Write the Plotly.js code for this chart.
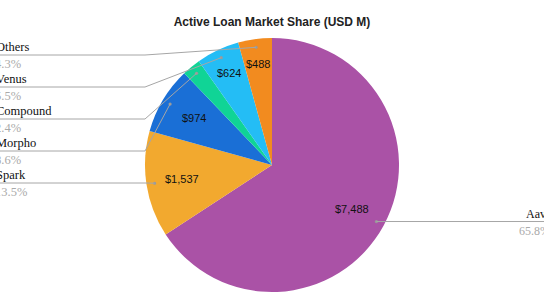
<!DOCTYPE html>
<html>
<head>
<meta charset="utf-8">
<script src="https://cdn.plot.ly/plotly-3.0.1.min.js"></script>
<style>html,body{margin:0;padding:0;background:#fff;overflow:hidden}#chart{width:544px;height:306px}</style>
</head>
<body>
<div id="chart"></div>
<script>
// ---- data ----
const labels = ["Aave", "Spark", "Morpho", "Compound", "Venus", "Others"];
const values = [7488, 1537, 974, 270, 624, 488];
const percentLabels = ["65.8%", "13.5%", "8.6%", "2.4%", "5.5%", "4.3%"];
const colors = ["#AA52A6", "#F2A92F", "#1A6FD6", "#10D496", "#24BDF5", "#F28B1F"];

// ---- geometry (pixels) ----
const W = 544, H = 306;
const CX = 272, CY = 165, R = 127;
const px = x => x / W;
const py = y => 1 - y / H;

const total = values.reduce((a, b) => a + b, 0);
let cum = 0;
const mids = values.map(v => { const m = (cum + v / 2) / total; cum += v; return m * 2 * Math.PI; });
const pt = (ang, rf) => [CX + Math.sin(ang) * R * rf, CY - Math.cos(ang) * R * rf];

const shapes = [];
const annotations = [];
const grey = "#a6a6a6";
const serif = "Liberation Serif, Times New Roman, serif";

// value labels inside slices
values.forEach((v, i) => {
  const frac = v / total;
  const rf = frac > 0.08 ? 0.72 : 0.8;
  const [x, y] = pt(mids[i], rf);
  if (labels[i] === "Compound") return;
  annotations.push({
    x: px(x), y: py(y), xref: "paper", yref: "paper", showarrow: false,
    text: "$" + v.toLocaleString("en-US"),
    font: {family: "Liberation Sans, Arial", size: 11, color: "#111"},
    xanchor: "center", yanchor: "middle", borderpad: 0
  });
});

// leader dots, lines and outside labels
const leftOrder = ["Others", "Venus", "Compound", "Morpho", "Spark"];
const rowY0 = 55, rowStep = 32, elbowX = 145;
labels.forEach((lab, i) => {
  const [dx, dy] = pt(mids[i], 0.935);
  shapes.push({type: "circle", xref: "paper", yref: "paper",
    x0: px(dx - 1.6), x1: px(dx + 1.6), y0: py(dy + 1.6), y1: py(dy - 1.6),
    fillcolor: "#9a9a9a", line: {width: 0}});
  let ly;
  if (lab === "Aave") {
    ly = dy;
    shapes.push({type: "line", xref: "paper", yref: "paper",
      x0: px(dx), y0: py(dy), x1: px(W + 5), y1: py(ly), line: {color: grey, width: 1}});
    annotations.push({x: px(525), y: py(ly - 8), xref: "paper", yref: "paper", showarrow: false,
      text: lab, xanchor: "left", yanchor: "middle", borderpad: 0,
      font: {family: serif, size: 12, color: "#111"}});
    annotations.push({x: px(518), y: py(ly + 9), xref: "paper", yref: "paper", showarrow: false,
      text: percentLabels[i], xanchor: "left", yanchor: "middle", borderpad: 0,
      font: {family: serif, size: 12, color: "#aaaaaa"}});
  } else {
    const row = leftOrder.indexOf(lab);
    ly = rowY0 + row * rowStep;
    const ex = Math.min(elbowX, dx);
    shapes.push({type: "line", xref: "paper", yref: "paper",
      x0: px(dx), y0: py(dy), x1: px(ex), y1: py(ly), line: {color: grey, width: 1}});
    shapes.push({type: "line", xref: "paper", yref: "paper",
      x0: px(ex), y0: py(ly), x1: px(-5), y1: py(ly), line: {color: grey, width: 1}});
    annotations.push({x: px(-5), y: py(ly - 8), xref: "paper", yref: "paper", showarrow: false,
      text: lab, xanchor: "left", yanchor: "middle", borderpad: 0,
      font: {family: serif, size: 12.5, color: "#111"}});
    annotations.push({x: px(-6), y: py(ly + 9), xref: "paper", yref: "paper", showarrow: false,
      text: percentLabels[i], xanchor: "left", yanchor: "middle", borderpad: 0,
      font: {family: serif, size: 12.5, color: "#aaaaaa"}});
  }
});

const trace = {
  type: "pie",
  labels: labels,
  values: values,
  sort: false,
  direction: "clockwise",
  rotation: 0,
  marker: {colors: colors, line: {width: 0}},
  textinfo: "none",
  textposition: "none",
  hoverinfo: "label+value+percent",
  domain: {x: [px(CX - R), px(CX + R)], y: [py(CY + R), py(CY - R)]}
};

const layout = {
  width: W, height: H,
  margin: {l: 0, r: 0, t: 0, b: 0},
  paper_bgcolor: "#fff",
  showlegend: false,
  title: {text: "<b>Active Loan Market Share (USD M)</b>", x: 0.5, xanchor: "center",
    y: 1 - 22 / H, yanchor: "middle", yref: "container",
    font: {family: "Liberation Sans, Arial", size: 12, color: "#222"}},
  shapes: shapes,
  annotations: annotations
};

Plotly.newPlot("chart", [trace], layout, {displayModeBar: false, staticPlot: true});
</script>
</body>
</html>
